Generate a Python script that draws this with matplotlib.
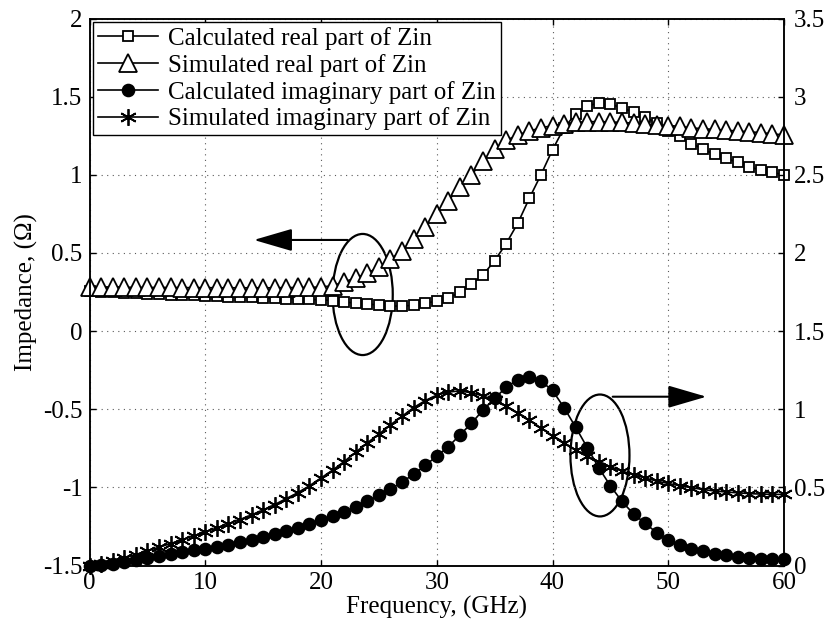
import numpy as np
import matplotlib
matplotlib.use("Agg")
import matplotlib.pyplot as plt
from matplotlib.patches import Ellipse

plt.rcParams["font.family"] = ["Liberation Serif", "DejaVu Serif"]
plt.rcParams["font.size"] = 18

# Frequency points (GHz)
freq = np.arange(0, 61, 1)

# Real part of Zin (left axis)
calc_real = [0.255, 0.252, 0.249, 0.246, 0.243, 0.240, 0.237, 0.234, 0.231, 0.228,
             0.225, 0.223, 0.221, 0.219, 0.216, 0.213, 0.211, 0.208, 0.205, 0.203,
             0.200, 0.195, 0.185, 0.180, 0.175, 0.165, 0.160, 0.160, 0.165, 0.180,
             0.190, 0.210, 0.250, 0.300, 0.360, 0.450, 0.560, 0.690, 0.850, 1.000,
             1.160, 1.300, 1.390, 1.440, 1.460, 1.450, 1.430, 1.400, 1.370, 1.330,
             1.280, 1.250, 1.200, 1.165, 1.130, 1.105, 1.080, 1.050, 1.030, 1.015, 1.000]
sim_real = [0.280, 0.280, 0.280, 0.280, 0.280, 0.279, 0.279, 0.279, 0.278, 0.278,
            0.278, 0.277, 0.277, 0.277, 0.277, 0.277, 0.277, 0.278, 0.279, 0.280,
            0.282, 0.290, 0.315, 0.340, 0.370, 0.410, 0.460, 0.515, 0.590, 0.665,
            0.750, 0.835, 0.920, 1.000, 1.090, 1.165, 1.220, 1.255, 1.280, 1.300,
            1.315, 1.325, 1.335, 1.340, 1.340, 1.338, 1.335, 1.330, 1.325, 1.320,
            1.315, 1.310, 1.300, 1.295, 1.290, 1.285, 1.280, 1.275, 1.270, 1.262, 1.255]

# Imaginary part of Zin (right axis)
calc_imag = [0.000, 0.005, 0.012, 0.024, 0.036, 0.049, 0.062, 0.074, 0.085, 0.096,
             0.107, 0.121, 0.134, 0.149, 0.164, 0.180, 0.200, 0.220, 0.240, 0.265,
             0.290, 0.315, 0.340, 0.375, 0.410, 0.450, 0.487, 0.535, 0.583, 0.640,
             0.700, 0.760, 0.835, 0.910, 0.995, 1.070, 1.140, 1.190, 1.205, 1.180,
             1.120, 1.010, 0.885, 0.755, 0.625, 0.510, 0.410, 0.330, 0.270, 0.210,
             0.160, 0.130, 0.107, 0.090, 0.075, 0.064, 0.055, 0.048, 0.044, 0.041, 0.040]
sim_imag = [0.000, 0.012, 0.027, 0.048, 0.070, 0.094, 0.117, 0.140, 0.165, 0.190,
            0.215, 0.240, 0.265, 0.294, 0.324, 0.355, 0.390, 0.428, 0.466, 0.510,
            0.560, 0.610, 0.665, 0.725, 0.785, 0.840, 0.900, 0.955, 1.010, 1.055,
            1.090, 1.110, 1.117, 1.105, 1.085, 1.060, 1.020, 0.975, 0.930, 0.880,
            0.830, 0.785, 0.740, 0.700, 0.665, 0.632, 0.605, 0.580, 0.560, 0.540,
            0.525, 0.510, 0.498, 0.486, 0.477, 0.470, 0.465, 0.460, 0.457, 0.455, 0.455]

labels = ["Calculated real part of Zin", "Simulated real part of Zin",
          "Calculated imaginary part of Zin", "Simulated imaginary part of Zin"]

fig = plt.figure(figsize=(8.27, 6.27), dpi=100)
ax = fig.add_axes([89.5 / 827, 1 - 565.5 / 627, 694.5 / 827, 547 / 627])
ax2 = ax.twinx()

kw = dict(color="k", lw=1.2, mew=1.3, clip_on=False)
l1, = ax.plot(freq, calc_real, marker="s", ms=7, mfc="white", **kw)
l2, = ax.plot(freq, sim_real, marker="^", ms=12.5, mfc="white", **kw)
l3, = ax2.plot(freq, calc_imag, marker="o", ms=8.5, mfc="k", **kw)
l4, = ax2.plot(freq, sim_imag, marker=(6, 2, 0), ms=12, **kw)

ax.set_xlim(0, 60)
ax.set_ylim(-1.5, 2)
ax2.set_ylim(0, 3.5)
ax.set_xticks(np.arange(0, 61, 10))
ax.set_yticks(np.arange(-1.5, 2.01, 0.5))
ax2.set_yticks(np.arange(0, 3.51, 0.5))
ax.set_yticklabels(["-1.5", "-1", "-0.5", "0", "0.5", "1", "1.5", "2"])
ax2.set_yticklabels(["0", "0.5", "1", "1.5", "2", "2.5", "3", "3.5"])

ax.grid(True, linestyle=(0, (1, 4)), color="0.35", lw=0.8)
ax.tick_params(direction="in", length=4, width=1, top=True, pad=5)
ax.tick_params(axis="x", pad=5)
ax2.tick_params(direction="in", length=4, width=1, pad=7)
for a in (ax, ax2):
    for s in a.spines.values():
        s.set_linewidth(1.1)

ax.set_xlabel("Frequency, (GHz)", labelpad=1)
ax.set_ylabel("Impedance, (Ω)", labelpad=4)

# ellipses with arrows pointing to the relevant axis
arrow = dict(arrowstyle="-|>,head_length=1.2,head_width=0.35",
             lw=1.5, color="k", mutation_scale=20, shrinkA=0, shrinkB=0)
ax.add_patch(Ellipse((23.6, 0.234), 5.2, 0.775, fill=False, lw=1.6, color="k"))
ax.annotate("", xy=(14.2, 0.583), xytext=(22.3, 0.583), arrowprops=arrow)
ax.add_patch(Ellipse((44.1, -0.796), 5.1, 0.78, fill=False, lw=1.6, color="k"))
ax.annotate("", xy=(53.3, -0.42), xytext=(45.2, -0.42), arrowprops=arrow)

leg = ax2.legend([l1, l2, l3, l4], labels, loc="upper left", numpoints=1,
                 fancybox=False, edgecolor="k", framealpha=1,
                 borderaxespad=0.15, handlelength=2.4, handletextpad=0.4,
                 labelspacing=0.15, borderpad=0.2)
leg.get_frame().set_linewidth(1.0)

fig.savefig("out.png", dpi=100)
